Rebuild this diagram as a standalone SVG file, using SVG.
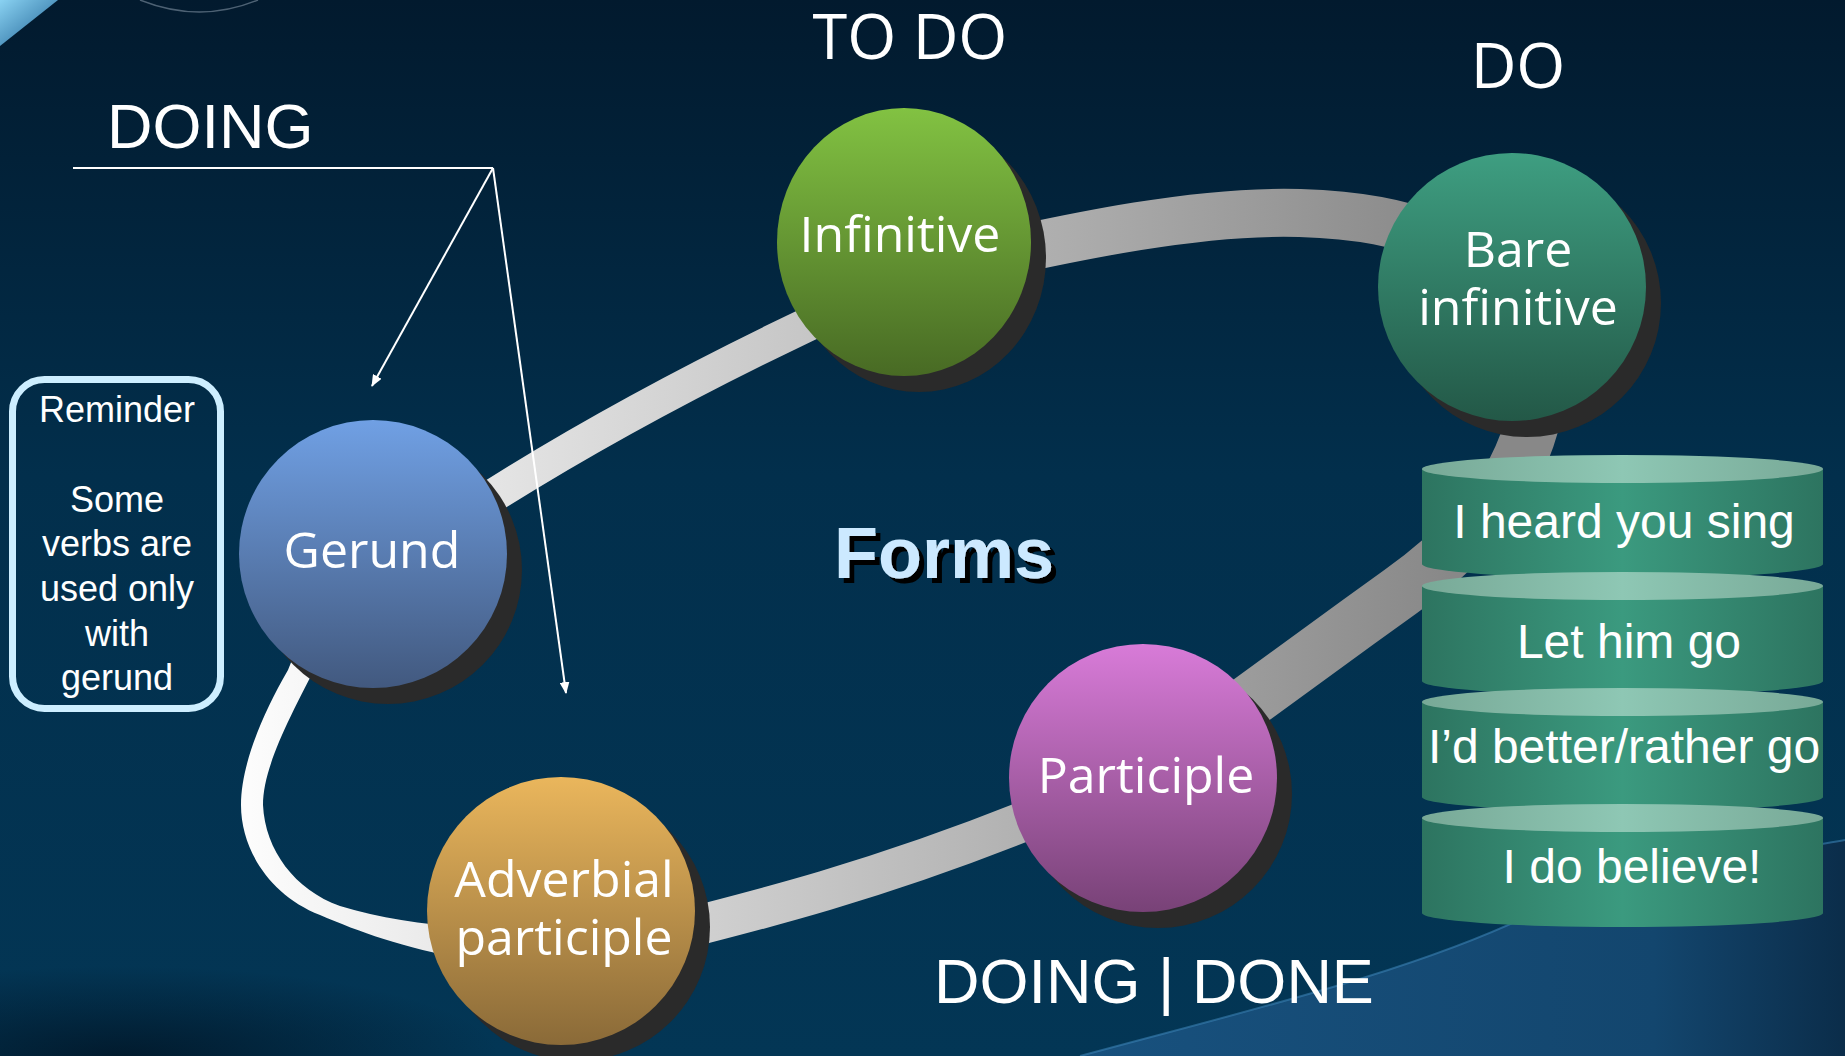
<svg xmlns="http://www.w3.org/2000/svg" width="1845" height="1056" viewBox="0 0 1845 1056">
<style>
.node-lbl{font-family:'Open Sans','Noto Sans','DejaVu Sans',sans-serif;font-size:50px;fill:#ffffff;text-anchor:middle}
.head-seg{font-family:'Open Sans','Noto Sans','DejaVu Sans',sans-serif;font-size:63px;fill:#ffffff;text-anchor:middle}
.head-ar{font-family:'Liberation Sans',Arial,sans-serif;font-size:63px;fill:#ffffff}
.disc-lbl{font-family:'Liberation Sans',Arial,sans-serif;font-size:48px;fill:#ffffff;text-anchor:middle}
.rem-lbl{font-family:'Liberation Sans',Arial,sans-serif;font-size:36px;fill:#ffffff;text-anchor:middle}
.shadow{fill:#2a2a2a}
.band{fill:none;stroke:url(#ring)}
.ptr{fill:none;stroke:#ffffff;stroke-width:2}
</style>
<defs>
 <linearGradient id="bg" x1="0" y1="0" x2="0" y2="1">
  <stop offset="0" stop-color="#021a2e"/>
  <stop offset="0.45" stop-color="#022f4c"/>
  <stop offset="1" stop-color="#033655"/>
 </linearGradient>
 <linearGradient id="floor" gradientUnits="userSpaceOnUse" x1="1080" y1="0" x2="1845" y2="0">
  <stop offset="0" stop-color="#18517e"/>
  <stop offset="0.75" stop-color="#13466e"/>
  <stop offset="1" stop-color="#0b2d4a"/>
 </linearGradient>
 <radialGradient id="blShade" cx="0.5" cy="0.5" r="0.5">
  <stop offset="0" stop-color="#011424" stop-opacity="0.8"/>
  <stop offset="1" stop-color="#011424" stop-opacity="0"/>
 </radialGradient>
 <linearGradient id="corner" x1="0" y1="0" x2="1" y2="1">
  <stop offset="0" stop-color="#8ad2f2"/>
  <stop offset="1" stop-color="#1c5f92"/>
 </linearGradient>
 <linearGradient id="ring" gradientUnits="userSpaceOnUse" x1="250" y1="0" x2="1450" y2="0">
  <stop offset="0" stop-color="#fcfcfc"/>
  <stop offset="1" stop-color="#888888"/>
 </linearGradient>
 <linearGradient id="gGer" x1="0" y1="0" x2="0" y2="1">
  <stop offset="0" stop-color="#70a0e4"/>
  <stop offset="1" stop-color="#42597f"/>
 </linearGradient>
 <linearGradient id="gInf" x1="0" y1="0" x2="0" y2="1">
  <stop offset="0" stop-color="#82c242"/>
  <stop offset="1" stop-color="#486a24"/>
 </linearGradient>
 <linearGradient id="gBare" x1="0" y1="0" x2="0" y2="1">
  <stop offset="0" stop-color="#3e9e81"/>
  <stop offset="1" stop-color="#235847"/>
 </linearGradient>
 <linearGradient id="gPart" x1="0" y1="0" x2="0" y2="1">
  <stop offset="0" stop-color="#d87bd8"/>
  <stop offset="1" stop-color="#784277"/>
 </linearGradient>
 <linearGradient id="gAdv" x1="0" y1="0" x2="0" y2="1">
  <stop offset="0" stop-color="#eab65c"/>
  <stop offset="1" stop-color="#8a6a38"/>
 </linearGradient>
 <linearGradient id="discBody" x1="0" y1="0" x2="1" y2="0">
  <stop offset="0" stop-color="#2d7460"/>
  <stop offset="0.5" stop-color="#3b9a7f"/>
  <stop offset="1" stop-color="#2d7460"/>
 </linearGradient>
 <linearGradient id="discTop" x1="0" y1="0" x2="1" y2="0">
  <stop offset="0" stop-color="#78a997"/>
  <stop offset="0.5" stop-color="#8ec7b4"/>
  <stop offset="1" stop-color="#78a997"/>
 </linearGradient>
 <filter id="drop" x="-10%" y="-20%" width="130%" height="150%">
  <feDropShadow dx="5" dy="5" stdDeviation="0.5" flood-color="#000000" flood-opacity="1"/>
 </filter>
 <marker id="arrow" markerUnits="userSpaceOnUse" markerWidth="12" markerHeight="10" refX="11" refY="5" orient="auto">
  <path d="M0,0 L12,5 L0,10 z" fill="#ffffff"/>
 </marker>
</defs>

<!-- background -->
<rect x="0" y="0" width="1845" height="1056" fill="url(#bg)"/>
<ellipse cx="120" cy="1056" rx="380" ry="90" fill="url(#blShade)"/>
<path d="M1080,1056 C1250,1010 1420,970 1540,910 C1640,870 1760,855 1845,840 L1845,1056 Z" fill="url(#floor)"/>
<path d="M1080,1056 C1250,1010 1420,970 1540,910 C1640,870 1760,855 1845,840" fill="none" stroke="#3a80b2" stroke-width="2" stroke-opacity="0.6"/>
<path d="M0,0 L58,0 L0,46 Z" fill="url(#corner)"/>
<path d="M140,0 Q200,24 258,0" fill="none" stroke="#6d8092" stroke-width="1.5" stroke-opacity="0.7"/>

<!-- connectors -->
<g id="connectors">
 <path class="band" stroke-width="34" d="M440,530 Q620,410 860,300"/>
 <path class="band" stroke-width="48" d="M960,262 C1080,235 1200,210 1300,213 C1360,215 1400,223 1440,238"/>
 <path class="band" stroke-width="54" d="M1540,380 C1532,470 1480,535 1400,592 C1340,635 1290,672 1210,730"/>
 <path class="band" stroke-width="40" d="M640,940 C760,910 880,880 1040,815 L1080,798"/>
 <path fill="url(#ring)" d="M300,640 L288,670 C262,715 241,765 241,805 C241,850 270,895 320,915 C360,932 400,947 470,960 L470,928 C420,924 380,918 340,906 C295,890 265,850 263,805 C263,770 285,725 322,655 Z"/>
 <line class="ptr" x1="73" y1="168" x2="493" y2="168"/>
 <line class="ptr" x1="493" y1="168" x2="372" y2="386" marker-end="url(#arrow)"/>
 <line class="ptr" x1="493" y1="168" x2="566" y2="693" marker-end="url(#arrow)"/>
</g>

<!-- headings -->
<g id="labels">
 <text class="head-ar" x="107" y="148">DOING</text>
 <text class="head-seg" x="910" y="59">TO DO</text>
 <text class="head-seg" x="1518" y="88">DO</text>
 <text class="head-ar" x="934" y="1003">DOING | DONE</text>
 <text x="944" y="578" font-family="'Liberation Sans',Arial,sans-serif" font-weight="bold" font-size="72" fill="#cce9ff" text-anchor="middle" filter="url(#drop)">Forms</text>
</g>

<!-- reminder -->
<g id="node-reminder">
 <rect x="12.5" y="379.5" width="208" height="329" rx="32" ry="32" fill="none" stroke="#cdeeff" stroke-width="7"/>
 <text class="rem-lbl" x="117" y="422">Reminder<tspan x="117" y="512">Some</tspan><tspan x="117" y="556">verbs are</tspan><tspan x="117" y="601">used only</tspan><tspan x="117" y="646">with</tspan><tspan x="117" y="690">gerund</tspan></text>
</g>

<!-- nodes -->
<g id="node-gerund">
 <circle class="shadow" cx="388" cy="570" r="134"/>
 <circle cx="373" cy="554" r="134" fill="url(#gGer)"/>
 <text class="node-lbl" x="372" y="568">Gerund</text>
</g>
<g id="node-infinitive">
 <ellipse class="shadow" cx="919" cy="258" rx="127" ry="134"/>
 <ellipse cx="904" cy="242" rx="127" ry="134" fill="url(#gInf)"/>
 <text class="node-lbl" x="900" y="252">Infinitive</text>
</g>
<g id="node-bare-infinitive">
 <circle class="shadow" cx="1527" cy="303" r="134"/>
 <circle cx="1512" cy="287" r="134" fill="url(#gBare)"/>
 <text class="node-lbl" x="1518" y="267">Bare<tspan x="1518" y="325">infinitive</tspan></text>
</g>
<g id="node-participle">
 <circle class="shadow" cx="1158" cy="794" r="134"/>
 <circle cx="1143" cy="778" r="134" fill="url(#gPart)"/>
 <text class="node-lbl" x="1146" y="793">Participle</text>
</g>
<g id="node-adverbial-participle">
 <circle class="shadow" cx="576" cy="927" r="134"/>
 <circle cx="561" cy="911" r="134" fill="url(#gAdv)"/>
 <text class="node-lbl" x="564" y="897">Adverbial<tspan x="564" y="955">participle</tspan></text>
</g>

<!-- examples stack -->
<g id="node-examples">
 <g id="disc-1">
  <rect x="1422" y="469" width="401" height="95" fill="url(#discBody)"/>
  <ellipse cx="1622.5" cy="564" rx="200.5" ry="14" fill="url(#discBody)"/>
  <ellipse cx="1622.5" cy="469" rx="200.5" ry="14" fill="url(#discTop)"/>
  <text class="disc-lbl" x="1624" y="538">I heard you sing</text>
 </g>
 <g id="disc-2">
  <rect x="1422" y="586" width="401" height="95" fill="url(#discBody)"/>
  <ellipse cx="1622.5" cy="681" rx="200.5" ry="14" fill="url(#discBody)"/>
  <ellipse cx="1622.5" cy="586" rx="200.5" ry="14" fill="url(#discTop)"/>
  <text class="disc-lbl" x="1629" y="658">Let him go</text>
 </g>
 <g id="disc-3">
  <rect x="1422" y="702" width="401" height="95" fill="url(#discBody)"/>
  <ellipse cx="1622.5" cy="797" rx="200.5" ry="14" fill="url(#discBody)"/>
  <ellipse cx="1622.5" cy="702" rx="200.5" ry="14" fill="url(#discTop)"/>
  <text class="disc-lbl" x="1624" y="763">I’d better/rather go</text>
 </g>
 <g id="disc-4">
  <rect x="1422" y="818" width="401" height="95" fill="url(#discBody)"/>
  <ellipse cx="1622.5" cy="913" rx="200.5" ry="14" fill="url(#discBody)"/>
  <ellipse cx="1622.5" cy="818" rx="200.5" ry="14" fill="url(#discTop)"/>
  <text class="disc-lbl" x="1632" y="883">I do believe!</text>
 </g>
</g>
</svg>
